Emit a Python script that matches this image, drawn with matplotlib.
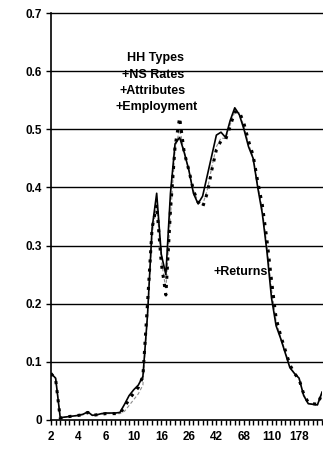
import matplotlib.pyplot as plt
import numpy as np

plt.rcParams['font.family'] = ['Liberation Sans', 'DejaVu Sans']
plt.rcParams['font.weight'] = 'bold'

# --- Data ---
# categories 0..59, labelled every 6th category
tick_pos = [0, 6, 12, 18, 24, 30, 36, 42, 48, 54]
tick_labels = ['2', '4', '6', '10', '16', '26', '42', '68', '110', '178']
y_ticks = [0, 0.1, 0.2, 0.3, 0.4, 0.5, 0.6, 0.7]
y_labels = ['0', '0.1', '0.2', '0.3', '0.4', '0.5', '0.6', '0.7']

hh_types = [0.080, 0.072, 0.004, 0.005, 0.006, 0.007, 0.008, 0.010, 0.014, 0.008,
            0.009, 0.011, 0.012, 0.012, 0.012, 0.013, 0.027, 0.042, 0.052, 0.060,
            0.075, 0.180, 0.330, 0.390, 0.285, 0.250, 0.390, 0.475, 0.486, 0.460,
            0.430, 0.390, 0.372, 0.385, 0.420, 0.455, 0.490, 0.495, 0.486, 0.515,
            0.537, 0.525, 0.500, 0.470, 0.450, 0.400, 0.355, 0.290, 0.210, 0.162,
            0.140, 0.115, 0.090, 0.080, 0.072, 0.042, 0.028, 0.027, 0.026, 0.048]

returns = [0.080, 0.070, 0.003, 0.005, 0.006, 0.007, 0.008, 0.009, 0.013, 0.008,
           0.009, 0.010, 0.011, 0.011, 0.011, 0.012, 0.022, 0.036, 0.046, 0.056,
           0.075, 0.200, 0.330, 0.370, 0.270, 0.215, 0.360, 0.470, 0.520, 0.460,
           0.430, 0.395, 0.375, 0.366, 0.390, 0.430, 0.465, 0.480, 0.482, 0.505,
           0.530, 0.530, 0.510, 0.480, 0.455, 0.410, 0.370, 0.310, 0.240, 0.175,
           0.145, 0.120, 0.095, 0.080, 0.070, 0.045, 0.030, 0.028, 0.027, 0.045]

employment = [0.079, 0.071, 0.003, 0.005, 0.006, 0.007, 0.008, 0.009, 0.012, 0.008,
              0.009, 0.010, 0.011, 0.011, 0.011, 0.011, 0.015, 0.025, 0.035, 0.045,
              0.060, 0.180, 0.320, 0.370, 0.275, 0.225, 0.350, 0.465, 0.500, 0.462,
              0.430, 0.395, 0.376, 0.370, 0.395, 0.435, 0.470, 0.485, 0.484, 0.508,
              0.530, 0.528, 0.505, 0.475, 0.452, 0.405, 0.362, 0.300, 0.225, 0.170,
              0.142, 0.118, 0.092, 0.080, 0.071, 0.044, 0.029, 0.027, 0.026, 0.046]

x = np.arange(len(hh_types))

# --- Plot ---
fig = plt.figure(figsize=(3.23, 4.49), dpi=100)
ax = fig.add_axes([0.158, 0.0646, 0.839, 0.9064])

for yv in y_ticks[1:]:
    ax.axhline(yv, color='black', lw=1.0, clip_on=False, zorder=1)

ax.plot(x, employment, color='#8c8c8c', lw=0.8, linestyle=(0, (3, 2)), zorder=2)
ax.plot(x, returns, color='black', lw=2.2, linestyle=(0, (1, 2)),
        dash_capstyle='butt', zorder=3)
ax.plot(x, hh_types, color='black', lw=1.2, zorder=4)

ax.text(22.7, 0.623, 'HH Types', ha='center', va='center', fontsize=9, fontweight='bold')
ax.text(22.2, 0.594, '+NS Rates', ha='center', va='center', fontsize=9, fontweight='bold')
ax.text(22.2, 0.566, '+Attributes', ha='center', va='center', fontsize=9, fontweight='bold')
ax.text(23.0, 0.539, '+Employment', ha='center', va='center', fontsize=9, fontweight='bold')
ax.text(41.2, 0.255, '+Returns', ha='center', va='center', fontsize=9, fontweight='bold')

ax.set_xlim(0, 59)
ax.set_ylim(0, 0.7)
ax.set_xticks(x, minor=True)
ax.set_xticks(tick_pos)
ax.set_xticklabels(tick_labels, fontsize=8.5, fontweight='bold')
ax.set_yticks(y_ticks)
ax.set_yticklabels(y_labels, fontsize=8.5, fontweight='bold')
ax.tick_params(axis='x', which='both', direction='out', length=3.5, width=1, pad=4.5)
ax.tick_params(axis='y', direction='out', length=3.5, width=1, pad=3)

for spine in ['top', 'right']:
    ax.spines[spine].set_visible(False)
ax.spines['left'].set_linewidth(1.2)
ax.spines['bottom'].set_linewidth(1.2)

fig.savefig('out.png', dpi=100, facecolor='white')
